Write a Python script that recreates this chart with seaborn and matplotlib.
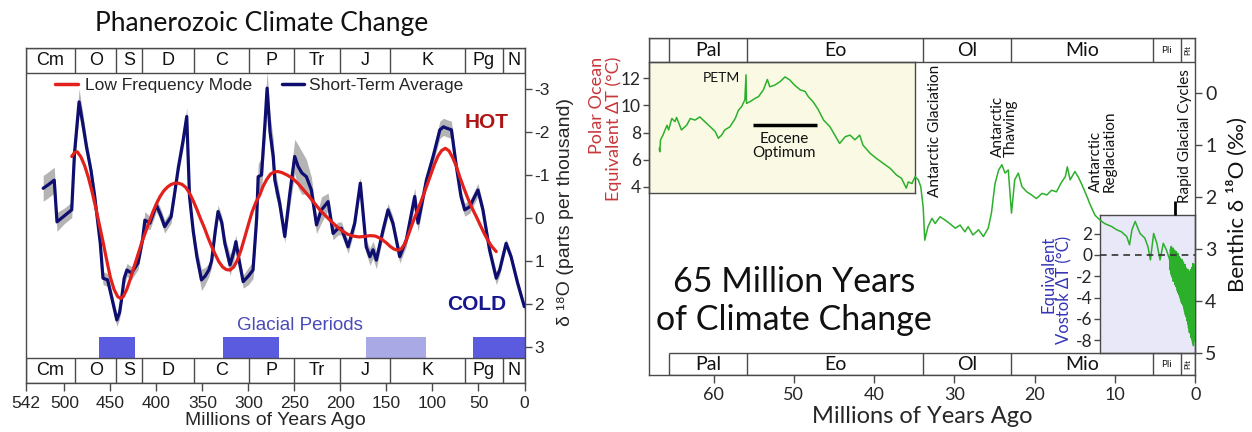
import matplotlib
matplotlib.use("Agg")
import matplotlib.pyplot as plt
from matplotlib.lines import Line2D
import pandas as pd
import seaborn as sns

# ---------------- Left panel data (Phanerozoic) ----------------
period_names = ["Cm", "O", "S", "D", "C", "P", "Tr", "J", "K", "Pg", "N"]
period_bounds = [542, 488, 444, 416, 359, 299, 251, 200, 146, 65, 23, 0]
left_xticks = [542, 500, 450, 400, 350, 300, 250, 200, 150, 100, 50, 0]
left_yticks = [-3, -2, -1, 0, 1, 2, 3]

short_term_ma = [523, 517, 511, 508, 500, 492, 489, 484, 480, 476, 471, 467, 461, 458, 453,
                 448, 443, 440, 438, 435, 432, 427, 420, 415, 412.5, 407, 400, 395, 391, 384,
                 380, 376, 371, 367, 364, 360, 356, 351, 347, 343, 340, 336, 333, 329, 325.6,
                 320, 316, 313.6, 310, 305.7, 300, 295, 291, 289.4, 285.8, 282, 279.7, 276.5,
                 273, 271.3, 266, 260.5, 255, 249.7, 246, 242, 237, 231.6, 226, 220.6, 213.4,
                 208, 203, 199, 191.7, 184.5, 178.4, 172, 168, 164.6, 161, 153.7, 148.3, 143,
                 135.6, 128.4, 119.3, 115.7, 106.6, 99.3, 92, 88, 84.8, 79.4, 74, 69, 65, 59.6,
                 50.6, 45.2, 38, 30.7, 27, 20, 14.6, 7.4, 0.2]
short_term_d18o = [-0.69, -0.78, -0.88, 0.09, -0.05, -0.19, -1.5, -2.70, -2.20, -1.66, -1.10,
                   -0.50, 0.58, 1.40, 1.44, 1.90, 2.37, 2.20, 1.91, 1.40, 1.21, 1.28, 1.05, 0.50,
                   0.05, 0.12, -0.30, -0.05, 0.20, -0.03, -0.60, -1.19, -1.80, -2.36, -0.50,
                   0.30, 0.90, 1.44, 1.35, 1.21, 1.00, 0.30, -0.15, 0.10, 0.59, 1.09, 0.80, 0.55,
                   1.00, 1.48, 1.35, 1.21, 0.00, -0.96, -1.00, -2.20, -3.02, -2.00, -1.43, -0.88,
                   -0.34, 0.43, -0.57, -1.43, -1.20, -1.05, -0.96, -0.65, 0.16, -0.19, -0.38,
                   0.36, 0.25, 0.24, 0.67, 0.12, -0.81, 0.67, 0.90, 0.74, 0.98, 0.28, -0.19,
                   0.12, 0.90, 0.51, -0.50, 0.12, -0.88, -1.43, -2.05, -2.12, -2.09, -2.05,
                   -1.19, -0.50, -0.19, -0.26, -0.65, -0.19, 0.74, 1.40, 1.21, 0.59, 0.90, 1.52,
                   2.06]
short_term_spread = [0.30, 0.30, 0.30, 0.22, 0.18, 0.18, 0.25, 0.30, 0.25, 0.20, 0.15, 0.15,
                     0.15, 0.15, 0.15, 0.15, 0.15, 0.15, 0.15, 0.15, 0.15, 0.15, 0.15, 0.15,
                     0.20, 0.15, 0.15, 0.15, 0.15, 0.15, 0.15, 0.15, 0.20, 0.20, 0.15, 0.15,
                     0.20, 0.25, 0.20, 0.15, 0.15, 0.15, 0.15, 0.15, 0.15, 0.25, 0.20, 0.15,
                     0.15, 0.15, 0.20, 0.20, 0.30, 0.30, 0.40, 0.40, 0.40, 0.40, 0.40, 0.30,
                     0.20, 0.15, 0.30, 0.40, 0.50, 0.50, 0.40, 0.30, 0.20, 0.30, 0.20, 0.15,
                     0.15, 0.15, 0.15, 0.15, 0.15, 0.15, 0.20, 0.20, 0.20, 0.15, 0.15, 0.15,
                     0.15, 0.15, 0.20, 0.20, 0.15, 0.15, 0.20, 0.20, 0.20, 0.20, 0.15, 0.15,
                     0.15, 0.15, 0.15, 0.15, 0.15, 0.15, 0.12, 0.10, 0.10, 0.10, 0.10]

low_freq_ma = [492, 489, 486, 482, 478, 474, 470, 466, 462, 458, 454, 450, 446, 442, 439, 436,
               432, 428, 424, 420, 416, 412, 408, 404, 400, 396, 392, 388, 384, 380, 376, 372,
               368, 364, 360, 356, 352, 348, 344, 340, 336, 332, 328, 324, 320, 316, 312, 308,
               304, 300, 296, 292, 288, 284, 280, 276, 272, 268, 264, 258, 252, 246, 240, 234,
               228, 222, 216, 210, 204, 198, 192, 186, 180, 174, 168, 162, 156, 150, 146, 142,
               138, 134, 130, 126, 122, 118, 114, 110, 106, 102, 98, 94, 90, 86, 82, 78, 74,
               70.4, 66, 62, 58, 54, 52.3, 48, 44, 40, 36, 32, 30.7]
low_freq_d18o = [-1.43, -1.52, -1.54, -1.42, -1.22, -0.95, -0.62, -0.25, 0.15, 0.55, 0.98, 1.38,
                 1.66, 1.83, 1.87, 1.83, 1.65, 1.40, 1.12, 0.85, 0.58, 0.34, 0.10, -0.13, -0.33,
                 -0.50, -0.63, -0.72, -0.78, -0.81, -0.81, -0.78, -0.71, -0.58, -0.40, -0.20,
                 0.02, 0.22, 0.45, 0.66, 0.85, 1.02, 1.14, 1.20, 1.21, 1.14, 0.98, 0.74, 0.45,
                 0.15, -0.14, -0.36, -0.52, -0.74, -0.90, -1.02, -1.07, -1.08, -1.06, -1.00,
                 -0.92, -0.80, -0.65, -0.50, -0.34, -0.18, -0.05, 0.08, 0.20, 0.30, 0.38, 0.42,
                 0.44, 0.43, 0.41, 0.42, 0.48, 0.58, 0.66, 0.72, 0.75, 0.72, 0.60, 0.38, 0.14,
                 -0.08, -0.30, -0.52, -0.76, -1.00, -1.24, -1.44, -1.57, -1.62, -1.56, -1.40,
                 -1.20, -0.96, -0.70, -0.48, -0.28, -0.10, -0.03, 0.17, 0.35, 0.51, 0.65, 0.75,
                 0.78]

glacial_from = [462, 327.5, 172, 56]
glacial_to = [423, 267, 107, 0]
glacial_light = [False, False, True, False]

# ---------------- Right panel data (Cenozoic) ----------------
epoch_names = ["Pal", "Eo", "Ol", "Mio", "Pli", "Plt"]
epoch_bounds = [65.5, 55.8, 33.9, 23.0, 5.3, 1.8, 0]
right_xticks = [60, 50, 40, 30, 20, 10, 0]
benthic_ticks = [0, 1, 2, 3, 4, 5]
polar_ticks = [4, 6, 8, 10, 12]
vostok_ticks = [-8, -6, -4, -2, 0, 2]

cenozoic_ma = [66.76, 66.7, 66.6, 66.3, 65.8, 65.6, 65.2, 64.8, 64.6, 64.0, 63.35, 62.9, 62.3,
               61.7, 61.1, 60.4, 59.8, 59.4, 59.0, 58.6, 57.96, 57.3, 56.9, 56.5, 56.1, 55.96,
               55.9, 55.5, 54.8, 54.4, 53.8, 53.3, 53.0, 52.4, 51.7, 51.1, 50.5, 49.9, 49.2,
               48.6, 48.2, 47.6, 47.0, 46.3, 45.5, 44.9, 44.3, 43.6, 43.0, 42.4, 41.8, 41.4,
               40.5, 39.7, 38.9, 38.0, 37.2, 36.6, 36.0, 35.75, 35.3, 34.9, 34.5, 34.2, 33.9,
               33.7, 33.3, 32.8, 32.4, 31.8, 31.2, 30.6, 29.9, 29.3, 28.7, 28.3, 27.7, 27.0,
               26.4, 25.8, 25.4, 24.96, 24.5, 24.1, 23.7, 23.3, 22.9, 22.5, 22.05, 21.6, 21.0,
               20.4, 19.8, 19.1, 18.5, 17.9, 17.3, 16.65, 16.2, 15.95, 15.6, 15.0, 14.6, 14.2,
               13.5, 13.1, 12.5, 11.9, 11.3, 10.4, 9.8, 9.2, 8.55, 8.2, 7.9, 7.5, 6.9, 6.3,
               5.9, 5.6, 5.2, 4.8, 4.4, 4.0, 3.6, 3.2,
               3.15, 3.10, 3.05, 3.00, 2.95, 2.90, 2.85, 2.80, 2.75, 2.70, 2.65, 2.60, 2.55,
               2.50, 2.45, 2.40, 2.35, 2.30, 2.25, 2.20, 2.15, 2.10, 2.05, 2.00, 1.95, 1.90,
               1.85, 1.80, 1.75, 1.70, 1.65, 1.60, 1.55, 1.50, 1.45, 1.40, 1.35, 1.30, 1.25,
               1.20, 1.15, 1.10, 1.05, 1.00, 0.95, 0.90, 0.85, 0.80, 0.75, 0.70, 0.65, 0.60,
               0.55, 0.50, 0.45, 0.40, 0.35, 0.30, 0.25, 0.20, 0.15, 0.10, 0.05, 0.00]
cenozoic_d18o = [1.06, 1.13, 0.90, 0.81, 0.62, 0.71, 0.49, 0.55, 0.47, 0.71, 0.62, 0.49, 0.52,
                 0.46, 0.55, 0.65, 0.74, 0.87, 0.81, 0.71, 0.65, 0.49, 0.33, 0.26, 0.13, -0.35,
                 0.20, 0.17, 0.10, 0.07, -0.06, -0.26, -0.12, -0.15, -0.22, -0.31, -0.25, -0.15,
                 -0.06, -0.03, 0.07, 0.17, 0.31, 0.52, 0.65, 0.81, 0.97, 0.84, 0.81, 0.90, 0.81,
                 1.00, 1.16, 1.26, 1.35, 1.45, 1.58, 1.64, 1.83, 1.71, 1.74, 1.61, 1.67, 1.80,
                 2.19, 2.83, 2.57, 2.41, 2.51, 2.38, 2.44, 2.51, 2.60, 2.54, 2.67, 2.57, 2.73,
                 2.63, 2.76, 2.60, 2.31, 1.75, 1.48, 1.38, 1.54, 1.48, 2.31, 1.67, 1.54, 1.80,
                 1.90, 1.96, 2.03, 1.93, 1.96, 1.87, 1.90, 1.71, 1.61, 1.42, 1.67, 1.51, 1.61,
                 1.74, 1.99, 2.15, 2.35, 2.44, 2.51, 2.57, 2.63, 2.67, 2.76, 2.92, 2.63, 2.47,
                 2.70, 2.79, 2.96, 3.21, 2.70, 2.89, 3.21, 2.89, 3.02, 3.21,
                 3.40, 3.00, 3.48, 2.95, 3.52, 3.02, 3.55, 2.98, 3.62, 3.04, 3.58, 3.02, 3.68,
                 3.06, 3.72, 3.05, 3.70, 3.10, 3.80, 3.08, 3.84, 3.14, 3.88, 3.15, 3.92, 3.18,
                 3.96, 3.22, 4.02, 3.20, 4.05, 3.26, 4.08, 3.25, 4.14, 3.32, 4.20, 3.30, 4.26,
                 3.36, 4.30, 3.38, 4.38, 3.42, 4.44, 3.40, 4.52, 3.46, 4.60, 3.44, 4.62, 3.40,
                 4.70, 3.42, 4.74, 3.35, 4.80, 3.28, 4.86, 3.30, 4.78, 3.40, 4.65, 3.55]

# ---------------- Styling ----------------
sns.set_theme(style="ticks")
LEFT_FONT = ["Liberation Sans", "DejaVu Sans"]
RIGHT_FONT = ["Lato", "DejaVu Sans"]
plt.rcParams["font.family"] = LEFT_FONT
plt.rcParams["axes.unicode_minus"] = False
EDGE = "#4a4a4a"

W, H = 1252, 432
fig = plt.figure(figsize=(W / 100, H / 100), dpi=100)
fig.patch.set_facecolor("white")


def rect(x0, y0, x1, y1):
    return [x0 / W, 1 - y1 / H, (x1 - x0) / W, (y1 - y0) / H]


# ======================= LEFT PANEL =======================
axL = fig.add_axes(rect(25.7, 48, 524.5, 383))
axL.set_xlim(542, 0)
axL.set_ylim(3.837, -3.953)

st = pd.DataFrame({"ma": short_term_ma, "d18o": short_term_d18o, "sp": short_term_spread})
lf = pd.DataFrame({"ma": low_freq_ma, "d18o": low_freq_d18o})
axL.fill_between(st["ma"], st["d18o"] - st["sp"], st["d18o"] + st["sp"],
                 color="#b4b4b4", lw=0, zorder=1)
sns.lineplot(data=st, x="ma", y="d18o", ax=axL, color="#0e0e70", lw=2.3,
             sort=False, estimator=None, zorder=3)
sns.lineplot(data=lf, x="ma", y="d18o", ax=axL, color="#e3211c", lw=2.3,
             sort=False, estimator=None, zorder=4)

gl = pd.DataFrame({"a": glacial_from, "b": glacial_to, "light": glacial_light})
axL.bar((gl["a"] + gl["b"]) / 2, 3.256 - 2.77, width=gl["a"] - gl["b"], bottom=2.77,
        color=["#a9a9e6" if l else "#5b5be0" for l in gl["light"]], lw=0, zorder=2)


def draw_band(ax, bounds, names, y0, y1, x_from, x_to, fs, fam, special=None):
    ax.hlines([y0, y1], x_from, x_to, color=EDGE, lw=1.0, zorder=5)
    ax.vlines(bounds, y0, y1, color=EDGE, lw=1.0, zorder=5)
    for nm, a, b in zip(names, bounds[:-1], bounds[1:]):
        kw = dict(fontsize=fs, rotation=0)
        if special and nm in special:
            kw.update(special[nm])
        ax.text((a + b) / 2, (y0 + y1) / 2, nm, ha="center", va="center",
                family=fam, color="#111111", zorder=6, **kw)


draw_band(axL, period_bounds, period_names, -3.953, -3.372, 542, 0, 13, LEFT_FONT)
draw_band(axL, period_bounds, period_names, 3.256, 3.837, 542, 0, 13, LEFT_FONT)

axL.set_xticks(left_xticks)
axL.set_yticks(left_yticks)
axL.yaxis.tick_right()
axL.tick_params(axis="x", direction="out", length=6, width=1, labelsize=12.5,
                color=EDGE, pad=3)
axL.tick_params(axis="y", direction="out", length=5, width=1, labelsize=12.5,
                color=EDGE, right=True, left=False, pad=2)
for s in axL.spines.values():
    s.set_color(EDGE)
    s.set_linewidth(1.0)
axL.set_xlabel("Millions of Years Ago", fontsize=14, labelpad=1)
axL.set_ylabel("")

h1 = Line2D([], [], color="#e3211c", lw=2.5)
h2 = Line2D([], [], color="#0e0e70", lw=2.5)
leg1 = axL.legend([h1], ["Low Frequency Mode"], loc="center left",
                  bbox_to_anchor=(0.0587, 0.889), frameon=False, fontsize=12.5,
                  handlelength=1.3, handletextpad=0.45, borderpad=0, borderaxespad=0)
axL.add_artist(leg1)
axL.legend([h2], ["Short-Term Average"], loc="center left",
           bbox_to_anchor=(0.513, 0.889), frameon=False, fontsize=12.5,
           handlelength=1.3, handletextpad=0.3, borderpad=0, borderaxespad=0)

axL.text(41.5, -2.21, "HOT", color="#b01515", fontsize=15, fontweight="bold",
         ha="center", va="center", zorder=6)
axL.text(52.4, 2.02, "COLD", color="#16168f", fontsize=15, fontweight="bold",
         ha="center", va="center", zorder=6)
axL.text(244, 2.49, "Glacial Periods", color="#4a4ab8", fontsize=13.5,
         ha="center", va="center", zorder=6)

fig.text(262 / W, 1 - 23 / H, "Phanerozoic Climate Change", ha="center", va="center",
         fontsize=19, family=RIGHT_FONT, color="#111111")
fig.text(565 / W, 1 - 212 / H, "δ ¹⁸O (parts per thousand)", rotation=90,
         ha="center", va="center", fontsize=14, family=LEFT_FONT)

# ======================= RIGHT PANEL =======================
axR = fig.add_axes(rect(648.5, 38, 1195.4, 375))
axR.set_xlim(68.1, 0)
axR.set_ylim(5.423, -1.058)

cz = pd.DataFrame({"ma": cenozoic_ma, "d18o": cenozoic_d18o})
sns.lineplot(data=cz, x="ma", y="d18o", ax=axR, color="#2cb02c", lw=1.1,
             sort=False, estimator=None, zorder=3)


def frac(ax, x, y):
    return ax.transLimits.transform((x, y))


def inset_box(ax, x0, x1, y0, y1, face, t_top, t_bot, ticks):
    (fx0, fy0) = frac(ax, x0, y1)
    (fx1, fy1) = frac(ax, x1, y0)
    ins = ax.inset_axes([fx0, fy0, fx1 - fx0, fy1 - fy0], zorder=0.5)
    ins.set_facecolor(face)
    ins.set_ylim(t_bot, t_top)
    ins.set_xticks([])
    ins.set_yticks(ticks)
    ins.tick_params(axis="y", direction="out", length=4, width=1, labelsize=12.5,
                    color=EDGE, pad=1.5)
    for lab in ins.get_yticklabels():
        lab.set_family(RIGHT_FONT)
    for s in ins.spines.values():
        s.set_color(EDGE)
        s.set_linewidth(1.0)
    return ins


# conversion of the benthic scale into the equivalent temperature scales
polar = inset_box(axR, 68.1, 34.9, -0.596, 1.92, "#fafae4",
                  10.915 - 3.838 * (-0.596), 10.915 - 3.838 * 1.92, polar_ticks)
vostok = inset_box(axR, 11.9, 0, 2.35, 5.0, "#e8e8f8",
                   4.883 * (3.115 - 2.35), 4.883 * (3.115 - 5.0), vostok_ticks)
axR.hlines(3.115, 11.9, 0, colors="#333333", linestyles=(0, (4, 3)), lw=1.2, zorder=4)

draw_band(axR, [68.1] + epoch_bounds, [""] + epoch_names, -1.058, -0.596, 68.1, 0, 14,
          RIGHT_FONT, special={"Pli": {"fontsize": 7}, "Plt": {"fontsize": 6, "rotation": 90}})
draw_band(axR, epoch_bounds, epoch_names, 5.0, 5.423, 65.5, 0, 14, RIGHT_FONT,
          special={"Pli": {"fontsize": 7}, "Plt": {"fontsize": 6, "rotation": 90}})

axR.set_xticks(right_xticks)
axR.set_yticks(benthic_ticks)
axR.yaxis.tick_right()
axR.tick_params(axis="x", direction="out", length=6, width=1, labelsize=13, color=EDGE, pad=3)
axR.tick_params(axis="y", direction="out", length=5, width=1, labelsize=14, color=EDGE,
                right=True, left=False, pad=2)
for lab in axR.get_xticklabels() + axR.get_yticklabels():
    lab.set_family(RIGHT_FONT)
for s in axR.spines.values():
    s.set_color(EDGE)
    s.set_linewidth(1.0)
axR.set_xlabel("Millions of Years Ago", fontsize=17, family=RIGHT_FONT, labelpad=2)
axR.set_ylabel("")

tk = dict(family=RIGHT_FONT, color="#111111", zorder=6)
axR.text(56.7, -0.28, "PETM", ha="right", va="center", fontsize=10, **tk)
axR.hlines(0.615, 55.06, 47.1, colors="black", lw=2.5, zorder=5)
axR.text(51.2, 0.89, "Eocene", ha="center", va="center", fontsize=11, **tk)
axR.text(51.2, 1.16, "Optimum", ha="center", va="center", fontsize=11, **tk)
axR.text(32.4, 2.0, "Antarctic Glaciation", rotation=90, ha="center", va="bottom",
         fontsize=11, **tk)
axR.text(23.8, 1.23, "Antarctic\nThawing", rotation=90, ha="center", va="bottom",
         multialignment="left", fontsize=11, linespacing=0.95, **tk)
axR.text(11.5, 1.9, "Antarctic\nReglaciation", rotation=90, ha="center", va="bottom",
         multialignment="left", fontsize=11, linespacing=0.95, **tk)
axR.text(1.3, 2.12, "Rapid Glacial Cycles", rotation=90, ha="center", va="bottom",
         fontsize=11, **tk)
axR.vlines(2.6, 2.08, 2.35, colors="black", lw=2, zorder=5)
axR.text(50.0, 3.63, "65 Million Years", ha="center", va="center", fontsize=24.5, **tk)
axR.text(50.0, 4.37, "of Climate Change", ha="center", va="center", fontsize=24.5, **tk)

fig.text(597 / W, 1 - 57 / H, "Polar Ocean", rotation=90, ha="center", va="top",
         fontsize=13, color="#c8373a", family=RIGHT_FONT)
fig.text(614 / W, 1 - 57 / H, "Equivalent ΔT (°C)", rotation=90, ha="center", va="top",
         fontsize=13, color="#c8373a", family=RIGHT_FONT)
fig.text(1048 / W, 1 - 236 / H, "Equivalent", rotation=90, ha="center", va="top",
         fontsize=12, color="#3535b5", family=RIGHT_FONT)
fig.text(1064 / W, 1 - 236 / H, "Vostok ΔT (°C)", rotation=90, ha="center", va="top",
         fontsize=12, color="#3535b5", family=RIGHT_FONT)
fig.text(1237 / W, 1 - 205 / H, "Benthic δ ¹⁸O (‰)", rotation=90, ha="center",
         va="center", fontsize=16, family=RIGHT_FONT, color="#111111")

fig.savefig("out.png", dpi=100)
